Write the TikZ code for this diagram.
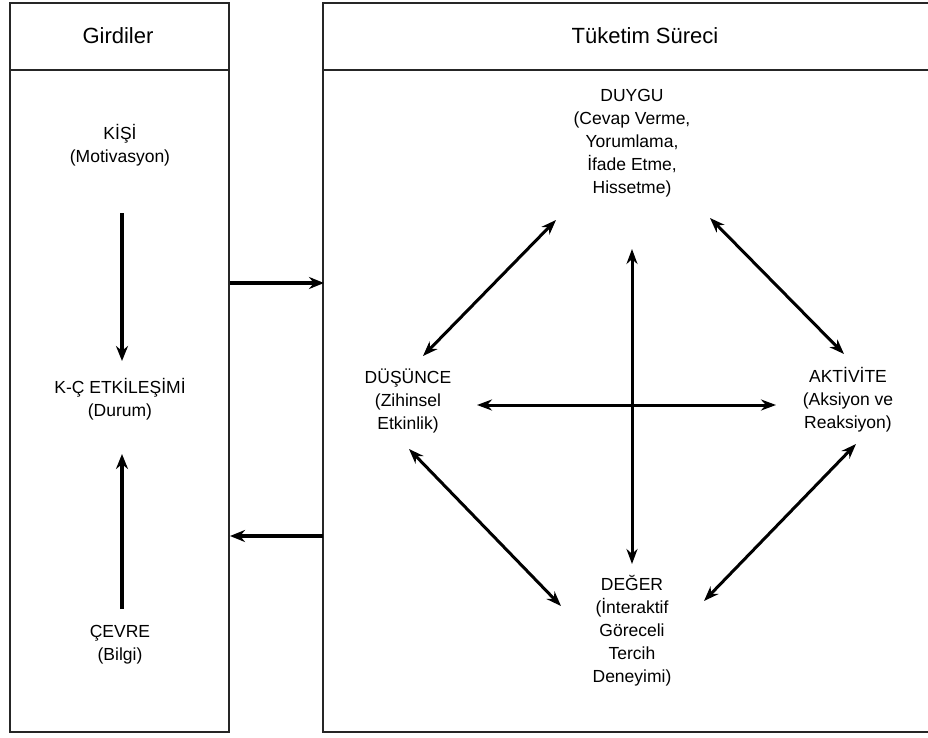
\documentclass[tikz,border=0pt]{standalone}
\usepackage{fontspec}
\setmainfont{Liberation Sans}
\usetikzlibrary{arrows.meta}
\begin{document}
\begin{tikzpicture}[x=1pt,y=-1pt,
  frame/.style={draw=black!85,line width=1.5pt},
  head/.style={font=\fontsize{22}{26}\selectfont},
  lbl/.style={align=center,inner sep=0pt,font=\fontsize{17.5}{23}\selectfont},
  arr/.style={line width=3.2pt,-{Stealth[length=15pt,width=12pt]}},
  darr/.style={line width=3pt,{Stealth[length=15pt,width=11pt]}-{Stealth[length=15pt,width=11pt]}},
  barr/.style={line width=4.2pt,-{Stealth[length=15pt,width=12pt]}}]
\useasboundingbox (0,0) rectangle (928,738);
\fill[white] (0,0) rectangle (928,738);
% frames
\draw[frame] (10,3) rectangle (229,732);
\draw[frame] (10,70) -- (229,70);
\draw[frame] (940,3) -- (323,3) -- (323,732) -- (940,732);
\draw[frame] (323,70) -- (940,70);
% headers
\node[head] (girdiler) at (118,36) {Girdiler};
\node[head] (tuketim) at (645,36) {Tüketim Süreci};
% left column
\node[lbl] (kisi) at (120,145) {KİŞİ\\(Motivasyon)};
\node[lbl] (kc) at (120,399) {K-Ç ETKİLEŞİMİ\\(Durum)};
\node[lbl] (cevre) at (120,645) {ÇEVRE\\(Bilgi)};
% right diagram
\node[lbl] (duygu) at (632,143) {DUYGU\\(Cevap Verme,\\Yorumlama,\\İfade Etme,\\Hissetme)};
\node[lbl] (dusunce) at (408,401) {DÜŞÜNCE\\(Zihinsel\\Etkinlik)};
\node[lbl] (aktivite) at (848,400) {AKTİVİTE\\(Aksiyon ve\\Reaksiyon)};
\node[lbl] (deger) at (632,631) {DEĞER\\(İnteraktif\\Göreceli\\Tercih\\Deneyimi)};
% arrow end coordinates
\coordinate (k1) at (122,213);
\coordinate (k2) at (122,361);
\coordinate (c1) at (122,609);
\coordinate (c2) at (122,454);
\coordinate (m1) at (230,283);
\coordinate (m2) at (324,283);
\coordinate (n1) at (323,536);
\coordinate (n2) at (230,536);
\coordinate (dl1) at (423,356);
\coordinate (dl2) at (556,220);
\coordinate (dr1) at (710,218);
\coordinate (dr2) at (844,354);
\coordinate (v1) at (632,249);
\coordinate (v2) at (632,564);
\coordinate (h1) at (477,405);
\coordinate (h2) at (776,405);
\coordinate (ll1) at (409,449);
\coordinate (ll2) at (561,606);
\coordinate (lr1) at (856,444);
\coordinate (lr2) at (704,601);
% connectors
\draw[arr] (k1) -- (k2);
\draw[arr] (c1) -- (c2);
\draw[barr] (m1) -- (m2);
\draw[barr] (n1) -- (n2);
\draw[darr] (dl1) -- (dl2);
\draw[darr] (dr1) -- (dr2);
\draw[darr] (v1) -- (v2);
\draw[darr] (h1) -- (h2);
\draw[darr] (ll1) -- (ll2);
\draw[darr] (lr1) -- (lr2);
\end{tikzpicture}
\end{document}
